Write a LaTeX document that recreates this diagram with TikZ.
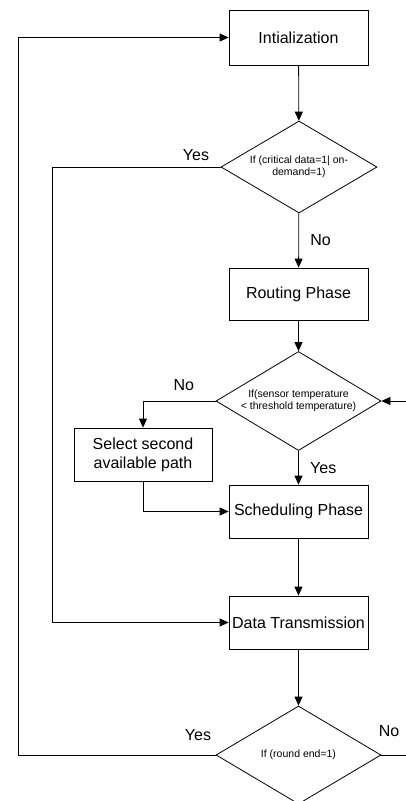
\documentclass[tikz,border=0pt]{standalone}
\usepackage{fontspec}
\setmainfont{Liberation Sans}
\usetikzlibrary{shapes.geometric,arrows.meta,positioning}

\tikzset{
	box/.style={draw, line width=0.8pt, minimum width=139pt, minimum height=53pt, inner sep=0pt, font=\fontsize{16}{19}\selectfont, align=center},
	decision/.style={draw, diamond, shape aspect=1.7, line width=0.8pt, inner sep=0pt, font=\fontsize{10.5}{12.5}\selectfont, align=center},
	flow/.style={line width=0.8pt, arrows={-Triangle[length=9pt,width=8pt]}},
	plain/.style={line width=0.8pt},
	answer/.style={font=\fontsize{16}{19}\selectfont}
}

\begin{document}
\begin{tikzpicture}[x=1pt, y=-1pt]
	\clip (0,0) rectangle (406,801);
	\coordinate (yesturn) at (52,167);
	\coordinate (loopturn) at (18,755);
	\coordinate (tempin) at (406,401);
	\coordinate (roundout) at (406,755);
	\node [box, minimum height=55pt] (init) at (298.5,37.5) {Intialization};
	\node [decision, minimum width=156pt, minimum height=92pt] (critical) at (299,167) {If (critical data=1| on-\\demand=1)};
	\node [box, minimum height=52pt] (routing) at (298.5,294) {Routing Phase};
	\node [decision, minimum width=165pt, minimum height=99pt] (temp) at (298.5,401) {If(sensor temperature\\< threshold temperature)};
	\node [box, minimum width=138pt] (second) at (143,454.5) {Select second\\available path};
	\node [box] (sched) at (298.5,511.5) {Scheduling Phase};
	\node [box] (trans) at (298.5,622.5) {Data Transmission};
	\node [decision, minimum width=165pt, minimum height=98pt] (round) at (298.5,755) {If (round end=1)};
	\draw [flow] (init) -- (critical);
	\draw [flow] (critical) -- (routing) node [answer, midway, right=8pt] {No};
	\draw [flow] (critical.west) -- (yesturn) |- (trans.west);
	\node [answer, above left=3pt and 8pt] at (critical.west) {Yes};
	\draw [flow] (routing) -- (temp);
	\draw [flow] (temp.west) -| (second.north);
	\node [answer, above left=7pt and 18pt] at (temp.west) {No};
	\draw [flow] (tempin) -- (temp.east);
	\draw [flow] (temp) -- (sched) node [answer, midway, right=8pt] {Yes};
	\draw [flow] (second.south) |- (sched.west);
	\draw [flow] (sched) -- (trans);
	\draw [flow] (trans) -- (round);
	\draw [flow] (round.west) -- (loopturn) |- (init.west);
	\node [answer, above left=11pt and 1pt] at (round.west) {Yes};
	\draw [plain] (round.east) -- (roundout);
	\node [answer, above right=15pt and -6pt] at (round.east) {No};
\end{tikzpicture}
\end{document}
